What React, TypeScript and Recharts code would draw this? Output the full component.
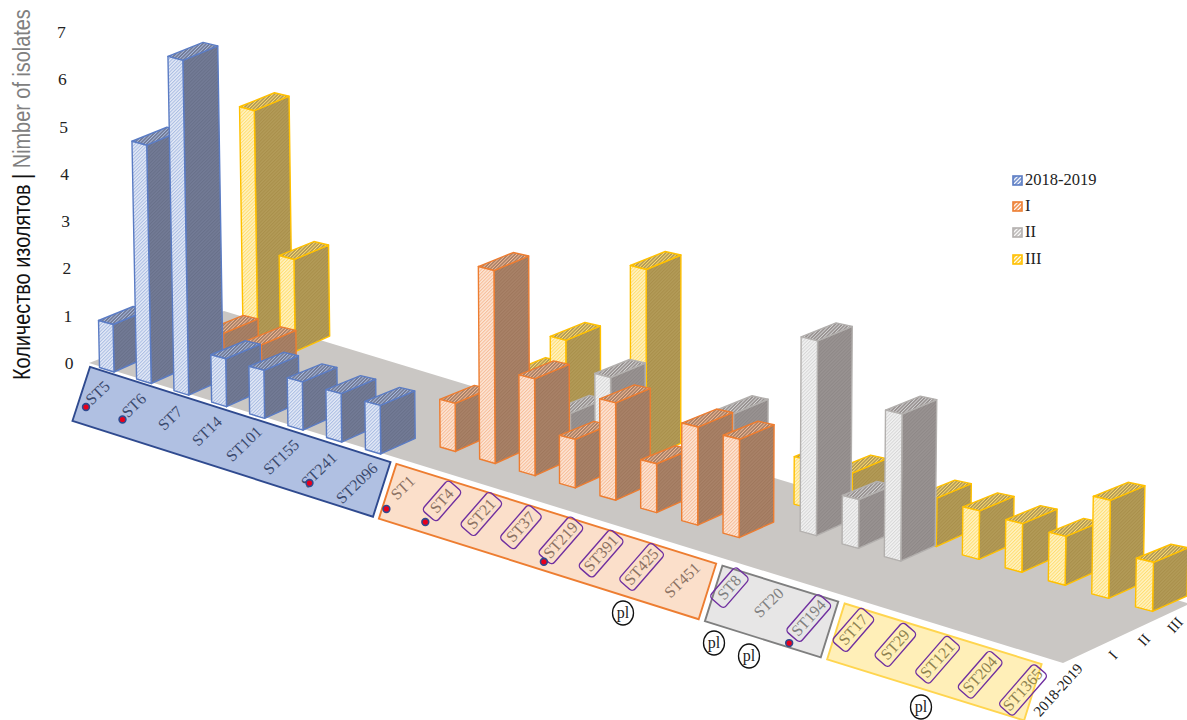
import React from "react";
import { BarChart, Bar, XAxis, YAxis, Legend, Customized } from "recharts";

// ---- data ----
const categories = ["ST5","ST6","ST7","ST14","ST101","ST155","ST241","ST2096","ST1","ST4","ST21","ST37","ST219","ST391","ST425","ST451","ST8","ST20","ST194","ST17","ST29","ST121","ST204","ST1365"];
const period2018 = [1,5,7,1,1,1,1,1,0,0,0,0,0,0,0,0,0,0,0,0,0,0,0,0];
const periodI    = [0,0,1,1,0,0,0,0,1,4,2,1,2,1,2,2,0,0,0,0,0,0,0,0];
const periodII   = [0,0,0,0,0,0,0,0,0,0,1,2,0,0,2,0,4,1,3,0,0,0,0,0];
const periodIII  = [0,5,2,0,0,0,0,0,1,2,0,4,0,0,0,1,1,0,1,1,1,1,2,1];
const yTicks = [0,1,2,3,4,5,6,7];
const boxedLabels = ["ST4","ST21","ST37","ST219","ST391","ST425","ST8","ST194","ST17","ST29","ST121","ST204","ST1365"];
const dottedLabels = ["ST5","ST6","ST241","ST1","ST4","ST219","ST194"];
const rowLabels = ["2018-2019","I","II","III"];
const groups = [
  { key: "blue", from: "ST5", to: "ST2096" },
  { key: "orange", from: "ST1", to: "ST451" },
  { key: "gray", from: "ST8", to: "ST194" },
  { key: "yellow", from: "ST17", to: "ST1365" },
];

const data = categories.map((name, i) => ({
  name,
  "2018-2019": period2018[i],
  I: periodI[i],
  II: periodII[i],
  III: periodIII[i],
}));

// ---- styling ----
const SERIF = "'Liberation Serif', serif";
const PLOT_LEFT = 100;
const BAND = 40;
const W = 1187, H = 720;
const AXIS_UNIT = (363 - 32) / 7;
const LEGEND_ROW = 26.3;

const look: Record<string, any> = {
  blue:   { stroke: "#5b7cc4", light: "#e4eaf7", hatch: "#a9bce2", side: "#737b96", sideH: "#687089", panel: "#b0c0e2", edge: "#2f4a8f", text: "#3b4a6e", trim: [-0.65, 0.25], lab: [-16, -1.1, 21, 1.2] },
  orange: { stroke: "#ed7d31", light: "#fde6d6", hatch: "#f6bc98", side: "#a98268", sideH: "#9f775c", panel: "#fbdfca", edge: "#ed7d31", text: "#8c7263", trim: [-0.6, 0.3], lab: [-17, -0.6, 22, 0.9] },
  gray:   { stroke: "#b3b0ae", light: "#f2f2f2", hatch: "#d6d6d6", side: "#999392", sideH: "#8e8887", panel: "#e7e6e6", edge: "#7f7f7f", text: "#808080", trim: [-0.55, 0.2], lab: [-16, -2.5, 23, 2.5] },
  yellow: { stroke: "#ffc000", light: "#fff3c4", hatch: "#ffdd70", side: "#b39b58", sideH: "#a98f4a", panel: "#ffefb8", edge: "#ffd54f", text: "#8f8350", trim: [-0.65, -0.1], lab: [-19, -1, 27, 2] },
};
const seriesLook: Record<string, string> = { "2018-2019": "blue", I: "orange", II: "gray", III: "yellow" };

// ---- oblique projection of the chart floor ----
const baseAt = (i: number) => ({
  x: 114 + 37.04 * i + 0.1514 * i * i,
  y: 372 + 11.45 * i + 0.037 * i * i,
});
const ROW_DX = 35.5, ROW_DY = -14.5;
const tilt = (x: number, h: number) => ((x - 660) * h) / 27000;
const pts = (a: number[][]) => a.map((p) => p.join(",")).join(" ");

function Box3D(props: any) {
  const { x, height, row, tone } = props;
  if (!height || height <= 0) return null;
  const i = Math.floor((x - PLOT_LEFT) / BAND + 1e-6);
  const b = baseAt(i);
  const bx = b.x + row * ROW_DX, by = b.y + row * ROW_DY;
  const h = (height / AXIS_UNIT) * (47.5 + 0.15 * i - 0.6 * row);
  const wL = 14.5 + 0.11 * i;
  const L0 = [bx - wL, by - 4.5];
  const M0 = [bx, by];
  const R0 = [bx + 34.5, by - 15.5];
  const L1 = [L0[0] + tilt(L0[0], h), by - h - 4];
  const M1 = [bx + tilt(bx, h), by - h];
  const R1 = [R0[0] + tilt(R0[0], h), by - h - 14.5];
  const B1 = [R1[0] - wL, R1[1] - 3.5];
  const c = look[tone];
  const common = { stroke: c.stroke, strokeWidth: 1.4, strokeLinejoin: "round" as const };
  return (
    <g>
      <polygon points={pts([M0, R0, R1, M1])} fill={`url(#side-${tone})`} {...common} />
      <polygon points={pts([L1, M1, R1, B1])} fill={`url(#top-${tone})`} {...common} />
      <polygon points={pts([L0, M0, M1, L1])} fill={`url(#front-${tone})`} {...common} />
    </g>
  );
}

function Patterns() {
  return (
    <defs>
      {Object.keys(look).map((k) => (
        <React.Fragment key={k}>
          <pattern id={`front-${k}`} width="2.4" height="2.4" patternUnits="userSpaceOnUse" patternTransform="rotate(-45)">
            <rect width="2.4" height="2.4" fill={look[k].light} />
            <rect width="2.4" height="1" fill={look[k].hatch} />
          </pattern>
          <pattern id={`side-${k}`} width="2.4" height="2.4" patternUnits="userSpaceOnUse" patternTransform="rotate(-45)">
            <rect width="2.4" height="2.4" fill={look[k].side} />
            <rect width="2.4" height="1" fill={look[k].sideH} />
          </pattern>
          <pattern id={`top-${k}`} width="2.4" height="2.4" patternUnits="userSpaceOnUse" patternTransform="rotate(-45)">
            <rect width="2.4" height="2.4" fill={look[k].side} />
            <rect width="2.4" height="0.8" fill={look[k].hatch} />
          </pattern>
          <pattern id={`icon-${k}`} width="2.8" height="2.8" patternUnits="userSpaceOnUse" patternTransform="rotate(-45)">
            <rect width="2.8" height="2.8" fill="#fff" />
            <rect width="2.8" height="1.4" fill={look[k].stroke} />
          </pattern>
        </React.Fragment>
      ))}
    </defs>
  );
}

function topEdge(t: number) {
  const b = baseAt(t);
  return [b.x, b.y + 2.5 + 0.35 * t];
}
function panelPoints(a: number, b: number) {
  const ta = topEdge(a), tb = topEdge(b);
  const down = (t: number) => [-17.5, 54 + 0.1 * t];
  const da = down(a), db = down(b);
  return pts([ta, tb, [tb[0] + db[0], tb[1] + db[1]], [ta[0] + da[0], ta[1] + da[1]]]);
}

function Plasmid({ x, y }: { x: number; y: number }) {
  return (
    <g>
      <ellipse cx={x} cy={y} rx={10.5} ry={12} fill="#fff" stroke="#111" strokeWidth={1.3} />
      <text x={x} y={y + 5} textAnchor="middle" fontFamily={SERIF} fontSize={16} fill="#222">pl</text>
    </g>
  );
}

function Backdrop() {
  return (
    <g>
      <Patterns />
      <polygon points="89,363 224,311 1187,603 1187,605 1063,663" fill="#cac7c4" />
      {groups.map((g) => {
        const a = categories.indexOf(g.from), b = categories.indexOf(g.to);
        const c = look[g.key];
        return (
          <g key={g.key}>
            <polygon points={panelPoints(a + c.trim[0], b + c.trim[1])} fill={c.panel} stroke={c.edge} strokeWidth={1.9} />
            {categories.slice(a, b + 1).map((name, k) => {
              const i = a + k;
              const p = baseAt(i);
              const cx = p.x + c.lab[0] + c.lab[1] * k, cy = p.y + c.lab[2] + c.lab[3] * k;
              const boxed = boxedLabels.includes(name);
              const digits = name.length - 2;
              const dot = dottedLabels.includes(name);
              const len = 35 + digits * 4.8;
              return (
                <g key={name}>
                  {boxed && (
                    <rect x={cx - len / 2} y={cy - 9.5} width={len} height={19} rx={4}
                      fill="none" stroke="#7030a0" strokeWidth={1.4} transform={`rotate(-49 ${cx} ${cy})`} />
                  )}
                  <text x={cx} y={cy + 5} textAnchor="middle" fontFamily={SERIF} fontSize={16} fill={c.text}
                    transform={`rotate(${boxed ? -48 : -44} ${cx} ${cy})`}>{name}</text>
                  {dot && (
                    <circle cx={p.x - 28 - 0.7 * i} cy={p.y + 35 + 1.0 * i} r={3.4} fill="#e8001c" stroke="#2f4a8f" strokeWidth={1.6} />
                  )}
                </g>
              );
            })}
          </g>
        );
      })}
      <Plasmid x={623} y={613} />
      <Plasmid x={714} y={643} />
      <Plasmid x={749} y={656} />
      <Plasmid x={921} y={707} />
      {rowLabels.map((t, r) => {
        const cx = r === 0 ? 1058 : 1082 + 31 * r;
        const cy = r === 0 ? 690 : 670 - 15 * r;
        return (
          <text key={t} x={cx} y={cy + 5} textAnchor="middle" fontFamily={SERIF} fontSize={15} fill="#222"
            transform={`rotate(-48 ${cx} ${cy})`}>{t}</text>
        );
      })}
      <text transform="translate(30 380) rotate(-90) scale(0.864 1)" fontFamily="'Liberation Sans', sans-serif" fontSize={23}>
        <tspan fill="#111">Количество изолятов | </tspan>
        <tspan fill="#808080">Nimber of isolates</tspan>
      </text>
    </g>
  );
}

const YTick = (p: any) => {
  const v = p.payload.value;
  return (
    <text x={69 - v * 1.1} y={p.y + 6} textAnchor="middle" fontFamily={SERIF} fontSize={17.5} fill="#222">{v}</text>
  );
};

const legendOrder = ["2018-2019", "I", "II", "III"];
const LegendBox = () => (
  <div style={{ fontFamily: SERIF, fontSize: 16.5, color: "#222" }}>
    {legendOrder.map((name) => {
      const c = look[seriesLook[name]];
      return (
        <div key={name} style={{ display: "flex", alignItems: "center", height: LEGEND_ROW }}>
          <svg width={13} height={11} style={{ display: "block" }}>
            <rect x={1} y={1} width={9} height={9} fill={`url(#icon-${seriesLook[name]})`} stroke={c.stroke} strokeWidth={1.6} />
          </svg>
          <span style={{ lineHeight: 1 }}>{name}</span>
        </div>
      );
    })}
  </div>
);

export default function App() {
  return (
    <div style={{ position: "absolute", left: 0, top: 0, width: W, height: H, overflow: "hidden", background: "#fff" }}>
      <BarChart width={W} height={H} data={data} barGap={0} barCategoryGap={0}
        margin={{ top: 32, left: 40, right: W - PLOT_LEFT - BAND * categories.length, bottom: H - 363 - LEGEND_ROW * 4 }}>
        <Customized component={<Backdrop />} />
        <XAxis dataKey="name" hide />
        <YAxis width={60} domain={[0, 7]} ticks={yTicks} axisLine={false} tickLine={false} tick={YTick} interval={0} />
        <Bar dataKey="III" fill="#ffc000" isAnimationActive={false} shape={(p: any) => <Box3D {...p} row={3} tone="yellow" />} />
        <Bar dataKey="II" fill="#a5a5a5" isAnimationActive={false} shape={(p: any) => <Box3D {...p} row={2} tone="gray" />} />
        <Bar dataKey="I" fill="#ed7d31" isAnimationActive={false} shape={(p: any) => <Box3D {...p} row={1} tone="orange" />} />
        <Bar dataKey="2018-2019" fill="#4472c4" isAnimationActive={false} shape={(p: any) => <Box3D {...p} row={0} tone="blue" />} />
        <Legend content={<LegendBox />} wrapperStyle={{ position: "absolute", left: 1012, top: 167, width: 120, bottom: "auto" }} />
      </BarChart>
    </div>
  );
}
